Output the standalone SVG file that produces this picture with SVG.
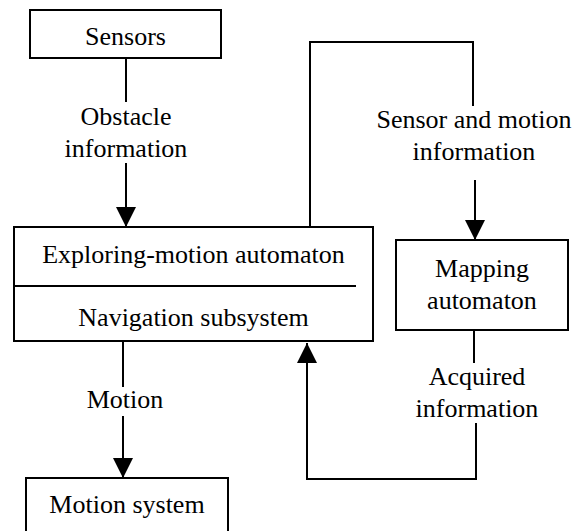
<svg xmlns="http://www.w3.org/2000/svg" width="583" height="531" viewBox="0 0 583 531">
<style>
  .box { fill: #fff; stroke: #000; stroke-width: 2; }
  .ln { fill: none; stroke: #000; stroke-width: 2; }
  text { font-family: "Liberation Serif", "Times New Roman", serif; font-size: 26px; fill: #000; text-anchor: middle; }
</style>
<defs>
  <marker id="arr" markerUnits="userSpaceOnUse" markerWidth="20" markerHeight="20" refX="20" refY="10" orient="auto" viewBox="0 0 20 20">
    <path d="M0,0 L20,10 L0,20 z" fill="#000"/>
  </marker>
</defs>
<g id="connectors">
  <path class="ln" d="M126,58 V102"/>
  <path class="ln" d="M126,163 V227" marker-end="url(#arr)"/>
  <path class="ln" d="M310,227 V42 H473 V106"/>
  <path class="ln" d="M475,180 V240" marker-end="url(#arr)"/>
  <path class="ln" d="M474,330 V363"/>
  <path class="ln" d="M476,423 V479 H307 V343" marker-end="url(#arr)"/>
  <path class="ln" d="M123,342 V387"/>
  <path class="ln" d="M123,416 V478" marker-end="url(#arr)"/>
</g>
<g id="labels">
  <text x="126" y="125">Obstacle</text>
  <text x="126" y="157">information</text>
  <text x="474" y="128">Sensor and motion</text>
  <text x="474" y="160">information</text>
  <text x="477" y="385">Acquired</text>
  <text x="477" y="417">information</text>
  <text x="125" y="408">Motion</text>
</g>
<g id="sensors">
  <rect class="box" x="30" y="10" width="191" height="48"/>
  <text x="125.5" y="45">Sensors</text>
</g>
<g id="navigation">
  <rect class="box" x="14" y="227" width="359" height="114"/>
  <line class="ln" x1="14" y1="286" x2="356" y2="286"/>
  <text x="193.5" y="263">Exploring-motion automaton</text>
  <text x="193.5" y="326">Navigation subsystem</text>
</g>
<g id="mapping">
  <rect class="box" x="396" y="240" width="172" height="90"/>
  <text x="482" y="277">Mapping</text>
  <text x="482" y="309">automaton</text>
</g>
<g id="motion-system">
  <rect class="box" x="26" y="478" width="202" height="70"/>
  <text x="127" y="513">Motion system</text>
</g>
</svg>
